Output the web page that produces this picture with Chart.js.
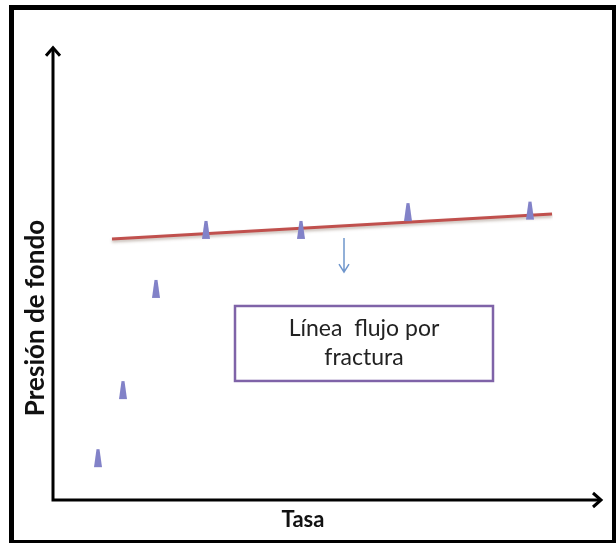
<!DOCTYPE html>
<html>
<head>
<meta charset="utf-8">
<script src="https://cdn.jsdelivr.net/npm/chart.js@4.4.1/dist/chart.umd.min.js"></script>
<style>
  html, body { margin: 0; padding: 0; background: #fff; }
</style>
</head>
<body>
<canvas id="chart" width="616" height="544"></canvas>
<script>
// values (no units on the axes, so arbitrary 0-100 scale)
const tasa = [9.0, 14.0, 20.6, 30.6, 49.6, 71.0, 95.4];
const presion = [11.5, 30.2, 58.0, 74.2, 74.2, 79.1, 79.5];

// red fracture-flow line
const lineaTasa = [11.8, 99.8];
const lineaPresion = [71.7, 78.6];

const xTitle = 'Tasa';
const yTitle = 'Presión de fondo';
const boxText = ['Línea  flujo por', 'fractura'];

// annotations, in data units
const notes = {
    box: { x0: 36.4, x1: 88.0, y0: 32.7, y1: 53.3 },
    arrow: { x: 58.2, y0: 72.0, y1: 62.6 },
    axisEnd: { x: 109.8, y: 124.5 }
};

// narrow purple marker like the reference
function makeMarker() {
    const c = document.createElement('canvas');
    c.width = 10; c.height = 20;
    const g = c.getContext('2d');
    g.fillStyle = '#8282c8';
    g.beginPath();
    g.moveTo(3.5, 1);
    g.lineTo(6.5, 1);
    g.lineTo(9, 19);
    g.lineTo(1, 19);
    g.closePath();
    g.fill();
    return c;
}

const decorPlugin = {
    id: 'decor',
    beforeDraw(chart) {
        const ctx = chart.ctx;
        ctx.save();
        ctx.fillStyle = '#fff';
        ctx.fillRect(0, 0, chart.width, chart.height);
        ctx.fillStyle = '#000';
        ctx.fillRect(9, 5, 5, 538);
        ctx.fillRect(9, 5, 607, 5);
        ctx.fillRect(612, 5, 4, 538);
        ctx.fillRect(9, 540, 607, 3);
        ctx.restore();
    },
    beforeDatasetDraw(chart, args) {
        if (args.index === 1) {
            const ctx = chart.ctx;
            ctx.save();
            ctx.shadowColor = 'rgba(90,60,40,0.35)';
            ctx.shadowOffsetY = 2;
            ctx.shadowBlur = 3;
        }
    },
    afterDatasetDraw(chart, args) {
        if (args.index === 1) chart.ctx.restore();
    },
    afterDatasetsDraw(chart) {
        const ctx = chart.ctx;
        const xs = chart.scales.x, ys = chart.scales.y;
        const x0 = xs.getPixelForValue(0), y0 = ys.getPixelForValue(0);
        const xe = xs.getPixelForValue(notes.axisEnd.x);
        const ye = ys.getPixelForValue(notes.axisEnd.y);
        ctx.save();
        // axes with arrow heads
        ctx.strokeStyle = '#000';
        ctx.lineWidth = 3;
        ctx.lineCap = 'butt';
        ctx.beginPath();
        ctx.moveTo(x0, y0 + 1.5); ctx.lineTo(x0, ye + 1);
        ctx.moveTo(x0 - 1.5, y0); ctx.lineTo(xe - 1, y0);
        ctx.stroke();
        ctx.lineJoin = 'miter';
        ctx.beginPath();
        ctx.moveTo(x0 - 7, ye + 9); ctx.lineTo(x0, ye + 1); ctx.lineTo(x0 + 7, ye + 9);
        ctx.moveTo(xe - 9, y0 - 7); ctx.lineTo(xe - 1, y0); ctx.lineTo(xe - 9, y0 + 7);
        ctx.stroke();

        // small blue arrow
        const ax = xs.getPixelForValue(notes.arrow.x);
        const a0 = ys.getPixelForValue(notes.arrow.y0);
        const a1 = ys.getPixelForValue(notes.arrow.y1);
        ctx.strokeStyle = '#6f96cc';
        ctx.lineWidth = 1.5;
        ctx.beginPath();
        ctx.moveTo(ax, a0); ctx.lineTo(ax, a1);
        ctx.moveTo(ax - 5, a1 - 8); ctx.lineTo(ax, a1); ctx.lineTo(ax + 5, a1 - 8);
        ctx.stroke();

        // text box
        const bx0 = xs.getPixelForValue(notes.box.x0);
        const bx1 = xs.getPixelForValue(notes.box.x1);
        const by0 = ys.getPixelForValue(notes.box.y1);
        const by1 = ys.getPixelForValue(notes.box.y0);
        ctx.fillStyle = '#fff';
        ctx.fillRect(bx0, by0, bx1 - bx0, by1 - by0);
        ctx.strokeStyle = '#7f63a8';
        ctx.lineWidth = 2.5;
        ctx.strokeRect(bx0, by0, bx1 - bx0, by1 - by0);
        ctx.fillStyle = '#222';
        ctx.font = '23px Lato';
        ctx.textAlign = 'center';
        ctx.textBaseline = 'middle';
        const cx = (bx0 + bx1) / 2, cy = (by0 + by1) / 2;
        ctx.fillText(boxText[0], cx, cy - 14.5);
        ctx.fillText(boxText[1], cx, cy + 14.5);
        ctx.restore();
    }
};

const marker = makeMarker();

new Chart(document.getElementById('chart').getContext('2d'), {
    type: 'scatter',
    data: {
        datasets: [
            {
                label: 'Datos',
                data: tasa.map((t, i) => ({ x: t, y: presion[i] })),
                pointStyle: marker,
                pointRadius: 10,
                order: 0
            },
            {
                label: 'Línea flujo por fractura',
                type: 'line',
                data: lineaTasa.map((t, i) => ({ x: t, y: lineaPresion[i] })),
                borderColor: '#c0504d',
                borderWidth: 3,
                pointRadius: 0,
                fill: false,
                order: 1
            }
        ]
    },
    options: {
        responsive: false,
        animation: false,
        layout: {
            autoPadding: false,
            padding: { left: 10, right: 63, top: 136, bottom: 6.6 }
        },
        plugins: {
            legend: { display: false },
            tooltip: { enabled: false }
        },
        scales: {
            x: {
                type: 'linear',
                min: 0, max: 100,
                grid: { display: false, drawTicks: false },
                border: { display: false },
                ticks: { display: false },
                title: {
                    display: true,
                    text: xTitle,
                    color: '#111',
                    font: { family: 'Lato', size: 22, weight: 'bold' },
                    padding: { top: 7, bottom: 4 }
                }
            },
            y: {
                type: 'linear',
                min: 0, max: 100,
                grid: { display: false, drawTicks: false },
                border: { display: false },
                ticks: { display: false },
                title: {
                    display: true,
                    text: yTitle,
                    color: '#111',
                    font: { family: 'Lato', size: 26, weight: 'bold' },
                    padding: { top: 10.4, bottom: 1.4 }
                }
            }
        }
    },
    plugins: [decorPlugin]
});
</script>
</body>
</html>
